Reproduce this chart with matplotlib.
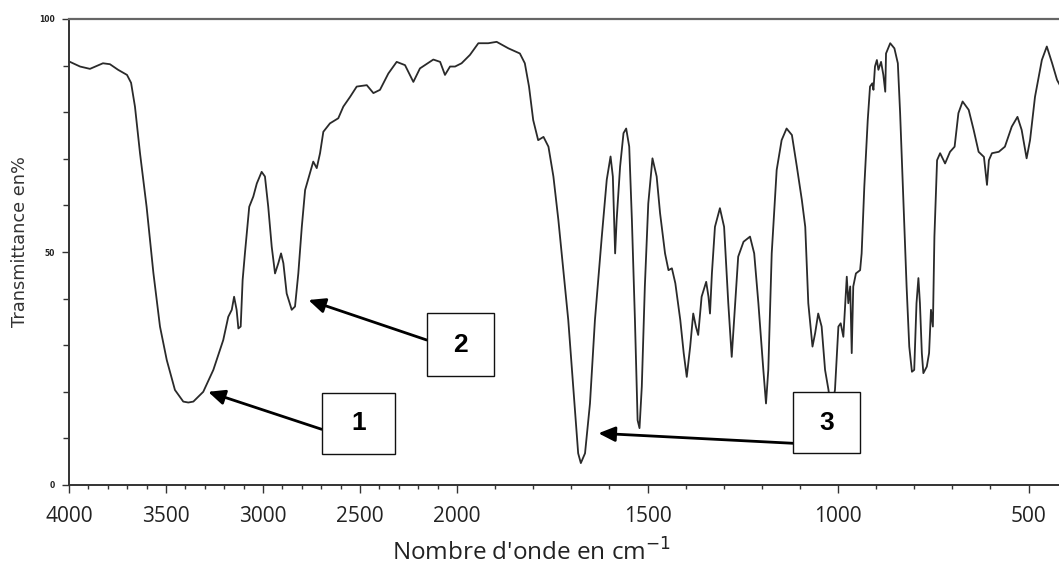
import numpy as np
import matplotlib
matplotlib.use("Agg")
import matplotlib.pyplot as plt
from matplotlib.patches import Rectangle
from matplotlib.ticker import FixedLocator, NullFormatter

# ---------------- data ----------------
wavenumber = [
    4000, 3995, 3943, 3892, 3825, 3789, 3747, 3701, 3680, 3660,
    3634, 3600, 3565, 3531, 3496, 3454, 3411, 3385, 3359, 3308,
    3256, 3205, 3179, 3161, 3149, 3136, 3127, 3115, 3105, 3093,
    3071, 3050, 3032, 3007, 2990, 2973, 2955, 2938, 2921, 2907,
    2895, 2878, 2852, 2835, 2818, 2800, 2783, 2758, 2741, 2723,
    2706, 2689, 2655, 2612, 2586, 2551, 2517, 2465, 2431, 2397,
    2354, 2311, 2268, 2225, 2191, 2122, 2087, 2062, 2036, 2010,
    1988, 1966, 1944, 1918, 1896, 1865, 1835, 1822, 1811, 1800,
    1787, 1773, 1760, 1747, 1734, 1721, 1708, 1695, 1682, 1675,
    1664, 1651, 1638, 1620, 1607, 1597, 1591, 1585, 1581, 1572,
    1563, 1556, 1548, 1541, 1533, 1526, 1521, 1515, 1507, 1498,
    1487, 1476, 1467, 1454, 1445, 1436, 1427, 1414, 1405, 1397,
    1388, 1380, 1373, 1367, 1358, 1346, 1340, 1336, 1331, 1323,
    1310, 1299, 1288, 1279, 1270, 1262, 1248, 1231, 1220, 1209,
    1196, 1189, 1183, 1174, 1161, 1148, 1135, 1121, 1108, 1095,
    1086, 1078, 1067, 1060, 1052, 1043, 1034, 1025, 1018, 1008,
    999, 993, 986, 977, 973, 968, 964, 960, 953, 942,
    938, 931, 922, 916, 910, 907, 903, 898, 894, 887,
    881, 876, 874, 863, 852, 843, 837, 828, 820, 813,
    806, 800, 794, 789, 785, 780, 776, 767, 761, 756,
    751, 747, 740, 732, 719, 706, 694, 684, 673, 657,
    644, 631, 617, 609, 604, 596, 578, 562, 544, 529,
    518, 505, 496, 483, 465, 452, 438, 425, 419,
]
transmittance = [
    90.9, 90.8, 89.8, 89.3, 90.5, 90.3, 89.1, 88.0, 86.3, 81.2,
    71.2, 59.7, 45.5, 34.0, 26.8, 20.4, 17.9, 17.7, 17.9, 20.0,
    24.7, 31.1, 36.1, 37.6, 40.4, 37.6, 33.6, 34.0, 44.0, 49.8,
    59.7, 61.9, 64.7, 67.2, 66.2, 59.7, 51.1, 45.4, 47.6, 49.7,
    47.6, 41.1, 37.6, 38.3, 45.4, 55.4, 63.3, 66.9, 69.4, 68.0,
    71.2, 75.8, 77.6, 78.7, 81.2, 83.3, 85.5, 85.8, 84.1, 84.8,
    88.3, 90.8, 90.1, 86.5, 89.4, 91.3, 90.8, 88.0, 89.8, 89.8,
    90.5, 92.3, 94.8, 94.8, 95.1, 93.7, 92.6, 90.5, 85.5, 78.3,
    74.0, 74.7, 72.6, 66.2, 56.9, 46.1, 35.4, 21.1, 6.8, 4.7,
    6.8, 17.5, 35.4, 53.3, 65.5, 70.5, 66.2, 49.7, 56.9, 68.3,
    75.5, 76.5, 72.6, 56.9, 35.4, 13.9, 12.2, 21.1, 42.6, 60.4,
    70.1, 66.2, 58.3, 49.7, 46.1, 46.5, 43.3, 35.4, 28.3, 23.2,
    29.7, 36.8, 34.0, 32.2, 40.4, 43.6, 40.4, 36.8, 45.4, 55.4,
    59.4, 55.4, 39.0, 27.5, 39.0, 49.0, 52.2, 53.3, 49.7, 39.0,
    24.7, 17.5, 24.7, 49.7, 67.6, 74.0, 76.5, 75.1, 68.3, 61.2,
    55.4, 39.0, 29.7, 32.6, 36.8, 34.0, 24.7, 20.4, 16.0, 20.4,
    34.0, 34.7, 31.8, 44.7, 39.0, 42.6, 28.3, 42.6, 45.4, 46.1,
    49.7, 64.0, 78.3, 85.5, 86.2, 84.8, 89.8, 91.2, 89.1, 90.8,
    88.0, 84.4, 92.6, 94.8, 93.7, 90.5, 79.8, 60.4, 42.6, 29.7,
    24.3, 24.7, 39.0, 44.4, 39.0, 28.3, 24.0, 25.4, 28.3, 37.6,
    34.0, 53.3, 69.7, 71.2, 69.0, 71.5, 72.6, 79.8, 82.3, 80.5,
    76.2, 71.5, 70.4, 64.4, 69.7, 71.2, 71.5, 72.6, 76.9, 79.0,
    76.2, 70.1, 74.0, 83.3, 91.2, 94.1, 90.5, 86.9, 86.0,
]

x_major_ticks = [4000, 3500, 3000, 2500, 2000, 1500, 1000, 500]
x_tick_labels = ["4000", "3500", "3000", "2500", "2000", "1500", "1000", "500"]
y_major_ticks = [0, 50, 100]
y_tick_labels = ["0", "50", "100"]

peak_labels = ["1", "2", "3"]
peak_wavenumber = [3283, 2766, 1629]
peak_transmittance = [20.0, 39.7, 11.1]

# ---------------- figure ----------------
W, H = 1059, 565
fig = plt.figure(figsize=(W / 100, H / 100), dpi=100)
ax = fig.add_axes([69 / W, (H - 485) / H, (W - 69) / W, (485 - 19) / H])

# IR spectrum axis: scale doubles below 2000 cm-1
def fwd(w):
    w = np.asarray(w, dtype=float)
    return np.where(w >= 2000, (w - 2000) * 97.0 / 500, (w - 2000) * 190.5 / 500)

def inv(u):
    u = np.asarray(u, dtype=float)
    return np.where(u >= 0, 2000 + u * 500 / 97.0, 2000 + u * 500 / 190.5)

ax.set_xscale("function", functions=(fwd, inv))
ax.plot(wavenumber, transmittance, color="#2a2a2a", lw=1.3, solid_joinstyle="round")
ax.set_xlim(4000, 420)
ax.set_ylim(0, 100)

ax.xaxis.set_major_locator(FixedLocator(x_major_ticks))
ax.set_xticklabels(x_tick_labels)
ax.xaxis.set_minor_locator(FixedLocator([v for v in range(4000, 400, -100) if v not in x_major_ticks]))
ax.xaxis.set_minor_formatter(NullFormatter())
ax.yaxis.set_major_locator(FixedLocator(y_major_ticks))
ax.set_yticklabels(y_tick_labels)
ax.yaxis.set_minor_locator(FixedLocator([10, 20, 30, 40, 60, 70, 80, 90]))

ax.tick_params(axis="x", which="major", direction="out", length=6, width=1.0,
               color="#333333", pad=9, labelsize=15, labelcolor="#222222")
ax.tick_params(axis="x", which="minor", direction="out", length=3, width=1.0, color="#333333")
ax.tick_params(axis="y", which="major", direction="out", length=5, width=1.0,
               color="#333333", pad=5, labelsize=5.5, labelcolor="#222222")
ax.tick_params(axis="y", which="minor", direction="out", length=4, width=1.0, color="#333333")
for lbl in ax.get_xticklabels():
    lbl.set_fontfamily("Open Sans")
for lbl in ax.get_yticklabels():
    lbl.set_fontweight("bold")

for s in ("left", "bottom"):
    ax.spines[s].set_color("#333333")
    ax.spines[s].set_linewidth(1.4)
ax.spines["top"].set_color("#666666")
ax.spines["top"].set_linewidth(1.6)
ax.spines["right"].set_visible(False)

ax.set_ylabel("Transmittance en%", fontsize=12.8, color="#333333", family="DejaVu Sans")
ax.yaxis.set_label_coords((20 - 69) / 990, (485 - 242) / 466)
ax.yaxis.label.set_va("center")

plt.rcParams["mathtext.fontset"] = "custom"
plt.rcParams["mathtext.rm"] = "Open Sans"
ax.set_xlabel("Nombre d'onde en cm$^{-1}$", fontsize=17.5, family="Open Sans", color="#222222")
ax.xaxis.set_label_coords((531 - 69) / 990, (485 - 561) / 466)
ax.xaxis.label.set_va("baseline")

# numbered boxes (pixel layout) and arrows to the bands
boxes = [(321.7, 392.7, 73, 61.3), (426.7, 313, 67.6, 63), (793.3, 392, 67, 61)]
tails = [(321.7, 429.3), (426.7, 340), (793.3, 443.3)]
for lab, pw, pt, (bx, by, bw, bh), (tx, ty) in zip(peak_labels, peak_wavenumber,
                                                   peak_transmittance, boxes, tails):
    ax.annotate("", xy=(pw, pt), xycoords="data", xytext=(tx, H - ty),
                textcoords="figure pixels",
                arrowprops=dict(arrowstyle="-|>,head_length=1.0,head_width=0.45",
                                color="black", lw=2.0, shrinkA=0, shrinkB=0))
    rect = Rectangle((bx / W, (H - by - bh) / H), bw / W, bh / H, transform=fig.transFigure,
                     facecolor="white", edgecolor="#111111", lw=1.0, zorder=5)
    fig.add_artist(rect)
    fig.text((bx + bw / 2) / W, (H - by - bh / 2) / H, lab, ha="center", va="center",
             fontsize=19, fontweight="bold", family="Liberation Sans", zorder=6)

fig.savefig("out.png", dpi=100)
